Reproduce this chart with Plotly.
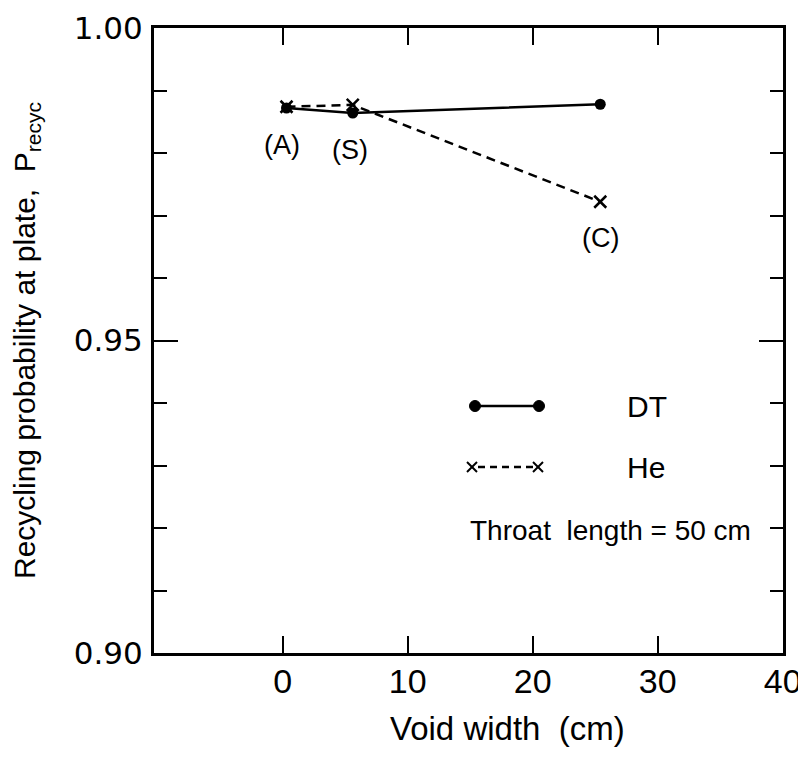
import plotly.graph_objects as go

# Data
void_width = [0.3, 5.6, 25.4]
p_dt = [0.9872, 0.9864, 0.9878]
p_he = [0.9874, 0.9877, 0.9722]
point_labels = ["(A)", "(S)", "(C)"]
label_series = [p_dt[0], p_dt[1], p_he[2]]

NARROW = "Liberation Sans Narrow, Liberation Sans, sans-serif"
TICKF = "DejaVu Sans, sans-serif"

# plot area in page pixels (body has an 8px margin)
OFF = 8
L, R, T, B = 154, 783, 28, 653
W, H = 798, 740

def px(xp):
    return (xp - L) / (R - L)

def py(yp):
    return (B - yp) / (B - T)

fig = go.Figure()

fig.add_trace(go.Scatter(
    x=void_width, y=p_dt, mode="lines+markers", name="DT",
    line=dict(color="black", width=2.5),
    marker=dict(symbol="circle", size=11, color="black"),
    showlegend=False))

fig.add_trace(go.Scatter(
    x=void_width, y=p_he, mode="lines+markers", name="He",
    line=dict(color="black", width=2.5, dash="9px,6px"),
    marker=dict(symbol="x-thin", size=12, line=dict(color="black", width=2.5)),
    showlegend=False))

annotations = []
shifts = [(-5, -37), (-3, -37), (0, -36)]
for xv, yv, t, (dx, dy) in zip(void_width, label_series, point_labels, shifts):
    annotations.append(dict(x=xv, y=yv, xref="x", yref="y", text=t, showarrow=False,
                            xshift=dx, yshift=dy, yanchor="middle",
                            font=dict(family=NARROW, size=27, color="black")))

# axis title x
annotations.append(dict(x=px(507), y=py(728), xref="paper", yref="paper",
                        xanchor="center", yanchor="middle",
                        text="Void width  (cm)", showarrow=False,
                        font=dict(family=NARROW, size=33, color="black")))

# legend text
annotations.append(dict(x=px(625), y=py(406), xref="paper", yref="paper",
                        xanchor="left", yanchor="middle",
                        text="DT", showarrow=False, font=dict(family=NARROW, size=30, color="black")))
annotations.append(dict(x=px(625), y=py(467), xref="paper", yref="paper",
                        xanchor="left", yanchor="middle",
                        text="He", showarrow=False, font=dict(family=NARROW, size=30, color="black")))
annotations.append(dict(x=px(468), y=py(530), xref="paper", yref="paper",
                        xanchor="left", yanchor="middle",
                        text="Throat  length = 50 cm", showarrow=False,
                        font=dict(family=NARROW, size=28, color="black")))

shapes = []
# DT legend sample
shapes.append(dict(type="line", xref="paper", yref="paper", x0=px(475), x1=px(539),
                   y0=py(406), y1=py(406), line=dict(color="black", width=2.5)))
for xc in (475, 539):
    shapes.append(dict(type="circle", xref="paper", yref="paper",
                       x0=px(xc - 5.5), x1=px(xc + 5.5), y0=py(406 + 5.5), y1=py(406 - 5.5),
                       fillcolor="black", line=dict(color="black", width=1)))
# He legend sample
shapes.append(dict(type="line", xref="paper", yref="paper", x0=px(478), x1=px(533),
                   y0=py(467), y1=py(467), line=dict(color="black", width=2.5, dash="7px,5px")))
for xc in (472, 538):
    for s in (1, -1):
        shapes.append(dict(type="line", xref="paper", yref="paper",
                           x0=px(xc - 5), x1=px(xc + 5), y0=py(467 - 5 * s), y1=py(467 + 5 * s),
                           line=dict(color="black", width=2)))

fig.update_layout(
    width=W, height=H,
    margin=dict(l=L - OFF, r=W - (R - OFF), t=T - OFF, b=H - (B - OFF), pad=0, autoexpand=False),
    plot_bgcolor="white", paper_bgcolor="white",
    annotations=annotations, shapes=shapes,
    xaxis=dict(range=[-10.3, 40.02], tickvals=[0, 10, 20, 30, 40],
               ticktext=["0", "10", "20", "30", "40"], automargin=False,
               ticks="inside", ticklen=17, tickwidth=2, tickcolor="black",
               showline=True, linewidth=3, linecolor="black", mirror="allticks",
               showgrid=False, zeroline=False,
               tickfont=dict(family=NARROW, size=34, color="black"),
               ticklabelstandoff=-4),
    yaxis=dict(range=[0.90, 1.00], tickvals=[0.90, 0.95, 1.00],
               ticktext=["0.90", "0.95", "1.00"], automargin=False,
               ticks="inside", ticklen=24, tickwidth=2, tickcolor="black",
               minor=dict(dtick=0.01, ticks="inside", ticklen=13, tickwidth=2, tickcolor="black"),
               showline=True, linewidth=3, linecolor="black", mirror="allticks",
               showgrid=False, zeroline=False,
               tickfont=dict(family=TICKF, size=31, color="black"),
               ticklabelstandoff=2,
               title=dict(text="Recycling probability at plate,  P<sub>recyc</sub>",
                          font=dict(family=NARROW, size=30, color="black"), standoff=30)),
)

fig.write_html("out.html")
